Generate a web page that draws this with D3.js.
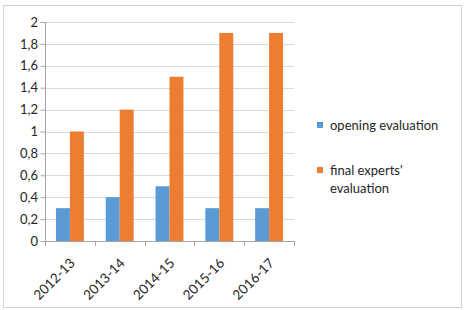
<!DOCTYPE html>
<html>
<head>
<meta charset="utf-8">
<script src="https://cdn.jsdelivr.net/npm/d3@7"></script>
<style>
  body { margin: 0; background: #fff; }
  text { font-family: Lato, "Liberation Sans", sans-serif; fill: #262626; }
</style>
</head>
<body>
<div class="barplot"></div>
<script>
// data
var years = ["2012-13", "2013-14", "2014-15", "2015-16", "2016-17"];
var opening = [0.3, 0.4, 0.5, 0.3, 0.3];
var finalExperts = [1.0, 1.2, 1.5, 1.9, 1.9];
var seriesNames = ["opening evaluation", "final experts' evaluation"];
var yTicks = [0, 0.2, 0.4, 0.6, 0.8, 1, 1.2, 1.4, 1.6, 1.8, 2];

var colors = ["#5B9BD5", "#ED7D31"];
var W = 465, H = 310;
var margin = {left: 45, top: 22, right: 171, bottom: 69};
var width = W - margin.left - margin.right,
    height = H - margin.top - margin.bottom;

var svg = d3.select(".barplot").append("svg")
    .attr("width", W)
    .attr("height", H);

// chart border
svg.append("rect")
  .attr("x", 3.5).attr("y", 5.5)
  .attr("width", 458).attr("height", 302)
  .style("fill", "none")
  .style("stroke", "#d0d0d0");

var g = svg.append("g")
    .attr("transform", "translate(" + margin.left + "," + margin.top + ")");

var x = d3.scaleBand()
    .domain(years)
    .range([0, width]);

var xs = d3.scaleBand()
    .domain([0, 1])
    .range([x.bandwidth() * 0.22, x.bandwidth() * 0.78]);

var y = d3.scaleLinear()
    .domain([0, 2])
    .range([height, 0]);

// gridlines
g.selectAll(".grid")
  .data(yTicks.slice(1))
  .enter().append("line")
    .attr("x1", 0).attr("x2", width)
    .attr("y1", d => Math.round(y(d)) + 0.5)
    .attr("y2", d => Math.round(y(d)) + 0.5)
    .style("stroke", "#d9d9d9");

// bars
var rows = years.map((yr, i) => ({year: yr, vals: [opening[i], finalExperts[i]]}));

var groups = g.selectAll(".grp")
  .data(rows)
  .enter().append("g")
    .attr("transform", d => "translate(" + x(d.year) + ",0)");

groups.selectAll("rect")
  .data(d => d.vals.map((v, k) => ({k: k, v: v})))
  .enter().append("rect")
    .attr("x", d => xs(d.k))
    .attr("width", xs.bandwidth())
    .attr("y", d => y(d.v))
    .attr("height", d => height - y(d.v))
    .style("fill", d => colors[d.k]);

// y axis
var yAxis = g.append("g")
  .call(d3.axisLeft(y).tickValues(yTicks).tickSize(5).tickPadding(3)
    .tickFormat(d => String(d).replace(".", ",")));
yAxis.select(".domain").attr("d", "M0.5," + (height) + "V0").style("stroke", "#a6a6a6");
yAxis.selectAll(".tick line").attr("x2", -5).attr("transform", "translate(0.5,0)").style("stroke", "#a6a6a6");
yAxis.selectAll(".tick text")
  .style("font-size", "13px")
  .attr("x", -7);

// x axis
var xAxis = g.append("g")
  .attr("transform", "translate(0," + height + ")")
  .call(d3.axisBottom(x).tickSize(0).tickPadding(0));
xAxis.select(".domain").attr("d", "M0,0.5H" + width).style("stroke", "#a6a6a6");

xAxis.selectAll(".bound")
  .data(d3.range(years.length + 1))
  .enter().append("line")
    .attr("x1", d => Math.round(d * x.step()) + 0.5)
    .attr("x2", d => Math.round(d * x.step()) + 0.5)
    .attr("y1", 0).attr("y2", 5)
    .style("stroke", "#a6a6a6");

xAxis.selectAll(".tick text")
  .style("font-size", "13.5px")
  .attr("text-anchor", "end")
  .attr("dy", 0)
  .attr("y", 0)
  .attr("transform", "translate(6,23) rotate(-45)");

// legend
var legend = svg.append("g");
var legY = [125, 170];

legend.selectAll("rect")
  .data(seriesNames)
  .enter().append("rect")
    .attr("x", 317)
    .attr("y", (d, i) => legY[i] - 3)
    .attr("width", 6).attr("height", 6)
    .style("fill", (d, i) => colors[i]);

legend.append("text")
  .attr("x", 330).attr("y", 129.5)
  .style("font-size", "13px")
  .text(seriesNames[0]);

legend.append("text")
  .attr("x", 330).attr("y", 174.5)
  .style("font-size", "13px")
  .text("final experts'");

legend.append("text")
  .attr("x", 330).attr("y", 192.5)
  .style("font-size", "13px")
  .text("evaluation");
</script>
</body>
</html>
